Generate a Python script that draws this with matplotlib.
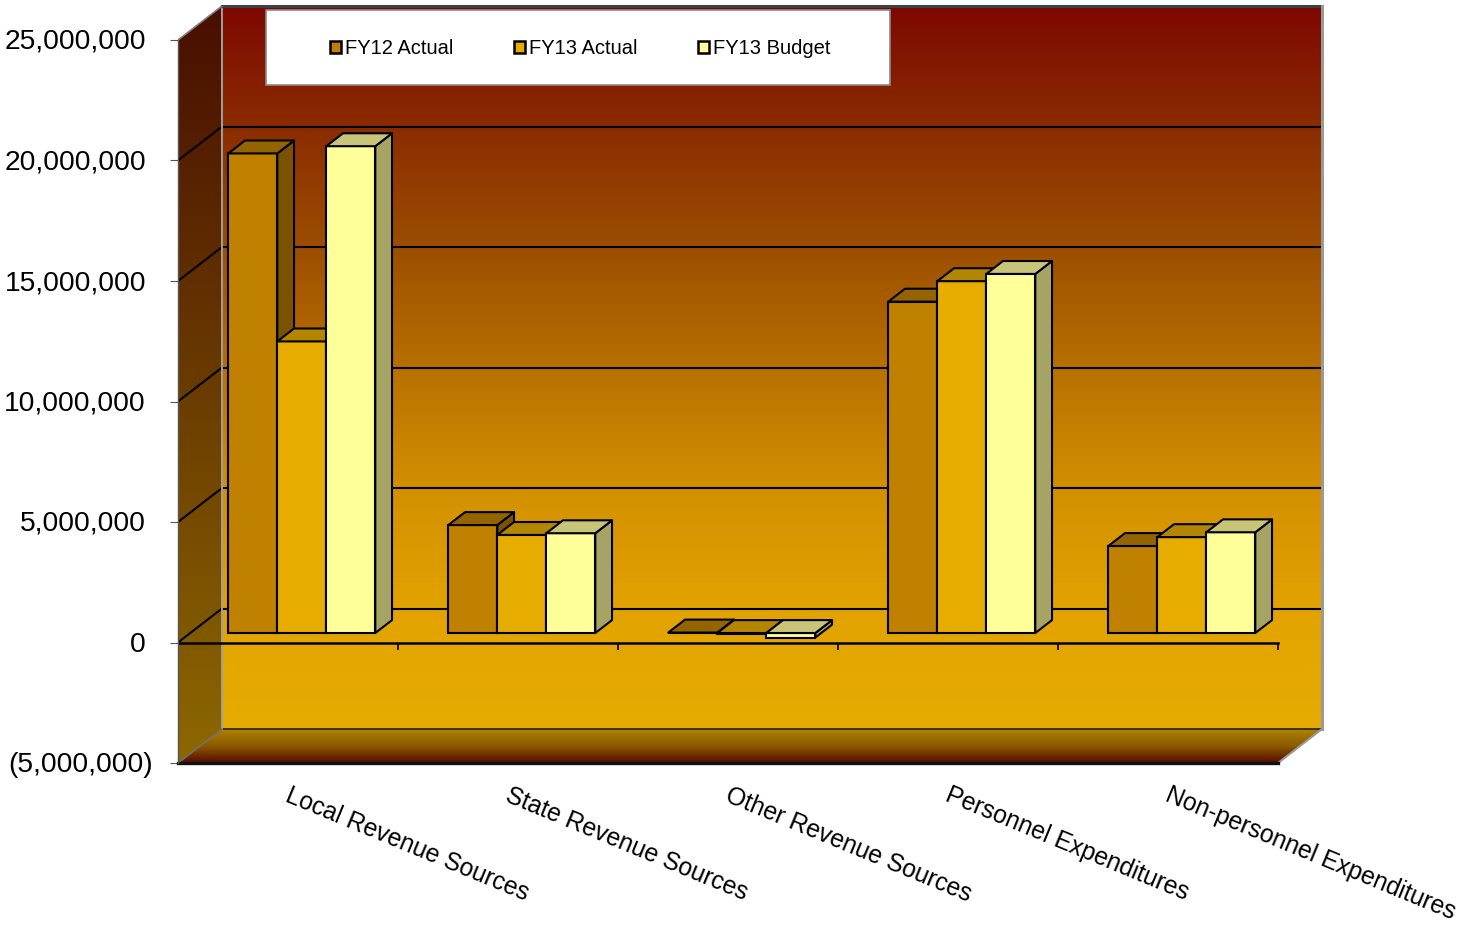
import numpy as np
import matplotlib
matplotlib.use("Agg")
import matplotlib.pyplot as plt
from matplotlib.patches import Polygon, Rectangle, Patch
from matplotlib import transforms

plt.rcParams['font.family'] = ['Liberation Sans', 'DejaVu Sans']

# ---------------- data ----------------
categories = ["Local Revenue Sources", "State Revenue Sources", "Other Revenue Sources",
              "Personnel Expenditures", "Non-personnel Expenditures"]
series_names = ["FY12 Actual", "FY13 Actual", "FY13 Budget"]
fy12_actual = [19.9e6, 4.48e6, 0.02e6, 13.75e6, 3.61e6]
fy13_actual = [12.1e6, 4.07e6, -0.05e6, 14.6e6, 3.98e6]
fy13_budget = [20.2e6, 4.14e6, -0.19e6, 14.9e6, 4.18e6]
y_ticks = [-5e6, 0, 5e6, 10e6, 15e6, 20e6, 25e6]
y_ticklabels = ["(5,000,000)", "0", "5,000,000", "10,000,000", "15,000,000", "20,000,000", "25,000,000"]

# ---------------- styles ----------------
front_cols = ["#c08000", "#e6ac00", "#ffff99"]
top_cols = ["#946400", "#b48600", "#c8c47a"]
side_cols = ["#7a5200", "#9a7300", "#a6a464"]

W, H = 1472, 925
fig = plt.figure(figsize=(W / 100, H / 100), dpi=100)
fig.patch.set_facecolor("white")

PXM = (763 - 40) / 30e6          # pixels per value unit
DX = 0.2                         # depth offset (category units)
DY = 34 / PXM                    # depth offset (value units)
YMIN, YMAX = -5e6, 25e6

ax = fig.add_axes([178 / W, (H - 763) / H, 1144 / W, (763 - 6) / H])
ax.set_xlim(0, 5 + DX)
ax.set_ylim(YMIN, YMAX + DY)
for s in ["top", "right", "bottom"]:
    ax.spines[s].set_visible(False)
ax.spines["left"].set_bounds(YMIN, YMAX)
ax.spines["left"].set_color("#555555")
ax.spines["left"].set_linewidth(1.0)
ax.spines["left"].set_zorder(6)
ax.set_xticks([])
ax.set_yticks(y_ticks)
ax.set_yticklabels([])
ax.tick_params(axis="y", length=6, width=0.8, color="#555555", direction="out")
ax.patch.set_visible(False)

# ---- back wall gradient ----
stops_v = [YMIN + DY, 1.4e6, 6.4e6, 11.4e6, 16.4e6, 21.4e6, YMAX + DY]
stops_c = [(230, 172, 0), (226, 163, 0), (210, 144, 0), (184, 112, 0), (156, 78, 0), (138, 44, 0), (126, 8, 0)]
yy = np.linspace(YMIN + DY, YMAX + DY, 400)
grad = np.zeros((400, 1, 3))
for k in range(3):
    grad[:, 0, k] = np.interp(yy, stops_v, [c[k] for c in stops_c]) / 255
ax.imshow(grad, extent=(DX, 5 + DX, YMIN + DY, YMAX + DY), origin="lower",
          aspect="auto", interpolation="bilinear", zorder=1)

# ---- side wall ----
side_poly = Polygon([(0, YMIN), (0, YMAX), (DX, YMAX + DY), (DX, YMIN + DY)],
                    closed=True, facecolor="none", edgecolor="none")
ax.add_patch(side_poly)
sg = np.zeros((300, 1, 3))
yy2 = np.linspace(0, 1, 300)
c_bot = np.array([140, 104, 0]) / 255
c_top = np.array([72, 14, 0]) / 255
for k in range(3):
    sg[:, 0, k] = c_bot[k] + (c_top[k] - c_bot[k]) * yy2
im2 = ax.imshow(sg, extent=(0, DX, YMIN, YMAX + DY), origin="lower", aspect="auto",
                interpolation="bilinear", zorder=1)
im2.set_clip_path(side_poly)

# ---- floor ----
floor_poly = Polygon([(0, YMIN), (5, YMIN), (5 + DX, YMIN + DY), (DX, YMIN + DY)],
                     closed=True, facecolor="none", edgecolor="none")
ax.add_patch(floor_poly)
fg = np.zeros((100, 1, 3))
yy3 = np.linspace(0, 1, 100)
f_bot = np.array([88, 10, 0]) / 255
f_mid = np.array([138, 90, 0]) / 255
f_top = np.array([176, 130, 0]) / 255
for k in range(3):
    fg[:, 0, k] = np.interp(yy3, [0, 0.5, 1], [f_bot[k], f_mid[k], f_top[k]])
im3 = ax.imshow(fg, extent=(0, 5 + DX, YMIN, YMIN + DY), origin="lower", aspect="auto",
                interpolation="bilinear", zorder=1)
im3.set_clip_path(floor_poly)

# ---- gridlines ----
for v in y_ticks:
    if YMIN < v < YMAX:
        ax.plot([DX, 5 + DX], [v + DY, v + DY], color="black", lw=1.5, zorder=2)
        ax.plot([0, DX], [v, v + DY], color="black", lw=1.5, zorder=2)
ax.plot([DX, 5 + DX], [YMIN + DY, YMIN + DY], color="#222222", lw=1.2, zorder=2)
ax.plot([DX, DX], [YMIN + DY, YMAX + DY], color="#a0a0a0", lw=1.4, zorder=2)
ax.plot([DX, 5 + DX], [YMAX + DY, YMAX + DY], color="#404040", lw=2.2, zorder=3, clip_on=False)
ax.plot([5 + DX, 5 + DX], [YMIN + DY, YMAX + DY], color="#9a9a9a", lw=2.2, zorder=3, clip_on=False)
ax.plot([0, DX], [YMAX, YMAX + DY], color="#808080", lw=1.2, zorder=3)
ax.plot([0, DX], [YMIN, YMIN + DY], color="#707070", lw=1.2, zorder=3)
ax.plot([5, 5 + DX], [YMIN, YMIN + DY], color="#9a9a9a", lw=1.5, zorder=3)
ax.plot([0, 5], [YMIN, YMIN], color="#111111", lw=2.4, zorder=3, clip_on=False)

# category axis at zero (front plane)
ax.plot([0, 5], [0, 0], color="black", lw=1.8, zorder=3)
ax.plot(np.arange(1, 6), np.zeros(5), ls="none", marker=3, ms=5, mew=1.2, color="black", zorder=3)

# ---- bars ----
bw = 49 / 220
d0 = 0.279
dd = 0.38
series = [fy12_actual, fy13_actual, fy13_budget]
for i in range(len(categories)):
    xl = i + 0.5 - 1.5 * bw + 0.007
    for j, vals in enumerate(series):
        v = vals[i]
        z = 10 + i * 5 + j
        x0 = xl + j * bw + d0 * DX
        s0 = d0 * DY
        lo, hi = min(0, v), max(0, v)
        ax.bar(x0, hi - lo, bottom=lo + s0, width=bw, align="edge", color=front_cols[j],
               edgecolor="black", linewidth=1.5, zorder=z)
        ddx, ddy = dd * DX, dd * DY
        top = Polygon([(x0, hi + s0), (x0 + bw, hi + s0), (x0 + bw + ddx, hi + s0 + ddy),
                       (x0 + ddx, hi + s0 + ddy)], closed=True, facecolor=top_cols[j],
                      edgecolor="black", linewidth=1.5, zorder=z, joinstyle="round")
        side = Polygon([(x0 + bw, lo + s0), (x0 + bw + ddx, lo + s0 + ddy),
                        (x0 + bw + ddx, hi + s0 + ddy), (x0 + bw, hi + s0)], closed=True,
                       facecolor=side_cols[j], edgecolor="black", linewidth=1.5, zorder=z,
                       joinstyle="round")
        ax.add_patch(side)
        ax.add_patch(top)

# ---- y tick labels ----
for v, lab in zip(y_ticks, y_ticklabels):
    off = -25 if lab.startswith("(") else -32
    tr = ax.transData + transforms.ScaledTranslation(off / 100, -2 / 100, fig.dpi_scale_trans)
    ax.text(0, v, lab, transform=tr, ha="right", va="center", fontsize=20.3, color="black",
            clip_on=False)

# ---- category labels ----
for i, lab in enumerate(categories):
    tr = ax.transData + transforms.ScaledTranslation(3 / 100, -20 / 100, fig.dpi_scale_trans)
    ax.text(i + 0.5, YMIN, lab, transform=tr, ha="left", va="top", rotation=-22.5,
            rotation_mode="anchor", fontsize=17.7, color="black", clip_on=False)

# ---- legend ----
box = Rectangle((266 / W, 1 - 85 / H), 624 / W, 75 / H, transform=fig.transFigure,
                facecolor="white", edgecolor="#8a8a8a", linewidth=1.2, zorder=30)
fig.patches.append(box)
handles = [Patch(facecolor=front_cols[j], edgecolor="black", linewidth=1.8) for j in range(3)]
leg = fig.legend(handles, series_names, loc="center", bbox_to_anchor=(580 / W, 1 - 49 / H),
                 ncol=3, frameon=False, fontsize=14.5, handlelength=0.55, handleheight=0.55,
                 handletextpad=0.2, columnspacing=3.0, borderpad=0)
leg.set_zorder(31)

fig.savefig("out.png", dpi=100, facecolor="white")
